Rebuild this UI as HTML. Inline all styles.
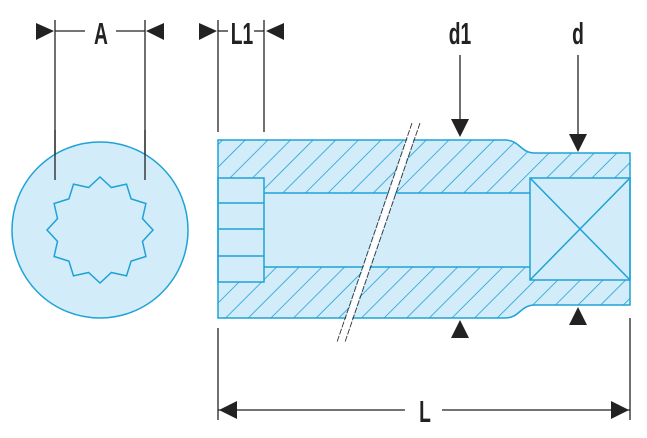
<!DOCTYPE html>
<html><head><style>html,body{margin:0;padding:0;background:#fff}svg{display:block}</style></head><body>
<svg width="647" height="438" viewBox="0 0 647 438" xmlns="http://www.w3.org/2000/svg">
<defs>
<pattern id="h" patternUnits="userSpaceOnUse" width="16" height="16" patternTransform="rotate(45)">
<rect width="16" height="16" fill="#d3ecfa"/><line x1="0" y1="0" x2="0" y2="16" stroke="#1ea2d6" stroke-width="1.6"/>
</pattern>
</defs>
<g stroke="#222" stroke-width="1.3" fill="none">
<line x1="55" y1="20" x2="55" y2="180"/><line x1="145" y1="20" x2="145" y2="180"/>
<line x1="55" y1="31" x2="85" y2="31"/><line x1="116" y1="31" x2="145" y2="31"/>
<line x1="218" y1="20" x2="218" y2="132"/><line x1="264" y1="20" x2="264" y2="132"/>
<line x1="218" y1="31" x2="228" y2="31"/><line x1="254" y1="31" x2="264" y2="31"/>
<line x1="460" y1="55" x2="460" y2="122"/><line x1="578" y1="55" x2="578" y2="136"/>
<line x1="218" y1="328" x2="218" y2="420"/><line x1="630" y1="318" x2="630" y2="420"/>
<line x1="218" y1="410" x2="405" y2="410"/><line x1="442" y1="410" x2="630" y2="410"/>
</g>
<g fill="#222">
<polygon points="36,23 36,40 54,31"/><polygon points="164,23 164,40 146,31"/>
<polygon points="199,23 199,40 217,31"/><polygon points="284,23 284,40 266,31"/>
<polygon points="451,119 469,119 460,137"/><polygon points="569,134 587,134 578,152"/>
<polygon points="451,338 469,338 460,320"/><polygon points="569,325 587,325 578,307"/>
<polygon points="237,401 237,419 219,410"/><polygon points="611,401 611,419 629,410"/>
</g>
<g font-family="Liberation Sans, sans-serif" font-size="31" font-weight="bold" fill="#222" text-anchor="middle">
<text transform="translate(101,44) scale(0.62,1)">A</text>
<text transform="translate(242,44) scale(0.62,1)">L1</text>
<text transform="translate(460,44) scale(0.62,1)">d1</text>
<text transform="translate(578,44) scale(0.62,1)">d</text>
<text transform="translate(425,422) scale(0.62,1)">L</text>
</g>
<circle cx="100" cy="230" r="88" fill="#d3ecfa" stroke="#1ea2d6" stroke-width="1.5"/>
<line x1="55" y1="130" x2="55" y2="180" stroke="#222" stroke-width="1.3"/><line x1="145" y1="130" x2="145" y2="180" stroke="#222" stroke-width="1.3"/>
<polygon fill="#d3ecfa" stroke="#1ea2d6" stroke-width="1.5" points="100,177 111.4,187.5 126.5,184.1 131.1,198.9 145.9,203.5 142.5,218.6 153,230 142.5,241.4 145.9,256.5 131.1,261.1 126.5,275.9 111.4,272.5 100,283 88.6,272.5 73.5,275.9 68.9,261.1 54.1,256.5 57.5,241.4 47,230 57.5,218.6 54.1,203.5 68.9,198.9 73.5,184.1 88.6,187.5"/>
<path d="M218,140 H505 C520,140 520,153 535,153 H630 V305 H535 C520,305 520,318 505,318 H218 Z" fill="#d3ecfa"/>
<path fill-rule="evenodd" fill="url(#h)" d="M218,140 H505 C520,140 520,153 535,153 H630 V305 H535 C520,305 520,318 505,318 H218 Z M218,178 H264 V193 H530 V178 H630 V280 H530 V267 H264 V282 H218 Z"/>
<g stroke="#1ea2d6" stroke-width="1.5" fill="none">
<path d="M218,140 H505 C520,140 520,153 535,153 H630 V305 H535 C520,305 520,318 505,318 H218 Z"/>
<rect x="218" y="178" width="46" height="104"/>
<line x1="218" y1="203" x2="264" y2="203"/><line x1="218" y1="229" x2="264" y2="229"/><line x1="218" y1="256" x2="264" y2="256"/>
<line x1="264" y1="193" x2="530" y2="193"/><line x1="264" y1="267" x2="530" y2="267"/>
<rect x="530" y="178" width="100" height="102"/>
<line x1="530" y1="178" x2="630" y2="280"/><line x1="630" y1="178" x2="530" y2="280"/>
</g>
<polygon points="413,123 419,123 344,342 338,342" fill="#fff"/>
<g stroke="#333" stroke-width="0.9" stroke-dasharray="6,1.5">
<line x1="412" y1="123" x2="337" y2="342"/><line x1="420" y1="123" x2="345" y2="342"/>
</g>
</svg>
</body></html>
